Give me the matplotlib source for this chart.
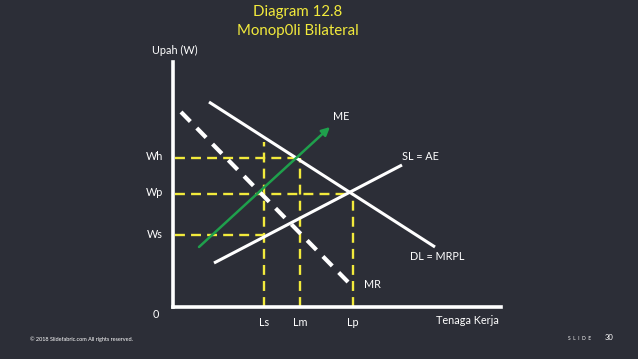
import matplotlib
matplotlib.use("Agg")
from matplotlib import pyplot as plt

plt.rcParams['font.family'] = ['Lato', 'DejaVu Sans']

bg = "#2c2e37"
yellow = "#f2ea3c"
green = "#1fa04c"

# curves (labour on x, wage on y)
dl_x = [36, 262]
dl_y = [205, 60]
sl_x = [41, 229]
sl_y = [44, 142]
me_x = [26, 157]
me_y = [60, 180]
mr_x = [8, 176]
mr_y = [195, 24]

# wage levels and labour quantities
wage_names = ["Wh", "Wp", "Ws"]
wage_vals = [149, 113, 72]
wage_ends = [127, 180, 91]
lab_names = ["Ls", "Lm", "Lp"]
lab_vals = [91, 127, 180]
lab_tops = [165, 149, 113]

fig = plt.figure(figsize=(6.38, 3.59), dpi=100, facecolor=bg)
ax = fig.add_axes([173 / 638, 52 / 359, 328 / 638, 245 / 359])
ax.set_facecolor(bg)
ax.set_xlim(0, 328)
ax.set_ylim(0, 245)
for s in ["top", "right"]:
    ax.spines[s].set_visible(False)
for s in ["left", "bottom"]:
    ax.spines[s].set_color("white")
    ax.spines[s].set_linewidth(2.6)
ax.set_xticks([])
ax.set_yticks([])

# yellow guide lines
for v, e in zip(wage_vals, wage_ends):
    ax.plot([2, e], [v, v], color=yellow, lw=1.7, dashes=(4.2, 2.6), zorder=2)
for v, t in zip(lab_vals, lab_tops):
    ax.plot([v, v], [0, t], color=yellow, lw=1.7, dashes=(4.2, 2.6), zorder=2)

ax.plot(dl_x, dl_y, color="white", lw=2.2, solid_capstyle="butt", zorder=3)
ax.plot(sl_x, sl_y, color="white", lw=2.2, solid_capstyle="butt", zorder=3)
ax.plot(mr_x, mr_y, color="white", lw=3, dashes=(3.2, 2.2), zorder=3)
ax.annotate("", xy=(me_x[1], me_y[1]), xytext=(me_x[0], me_y[0]),
            arrowprops=dict(arrowstyle="-|>", color=green, lw=1.8,
                            mutation_scale=12, shrinkA=0, shrinkB=0), zorder=4)

fs = 7.8
for n, v in zip(wage_names, wage_vals):
    ax.text(-18, v + 1, n, color="white", fontsize=fs, ha="center", va="center")
for n, v in zip(lab_names, lab_vals):
    ax.text(v, -15, n, color="white", fontsize=fs, ha="center", va="center")
ax.text(-17, -8, "0", color="white", fontsize=fs, ha="center", va="center")
ax.text(2, 257, "Upah (W)", color="white", fontsize=fs, ha="center", va="center")
ax.text(294, -13, "Tenaga Kerja", color="white", fontsize=fs, ha="center", va="center")
ax.text(168, 190, "ME", color="white", fontsize=fs, ha="center", va="center")
ax.text(247, 150, "SL = AE", color="white", fontsize=fs, ha="center", va="center")
ax.text(264, 51, "DL = MRPL", color="white", fontsize=fs, ha="center", va="center")
ax.text(199, 22, "MR", color="white", fontsize=fs, ha="center", va="center")

fig.text(298 / 638, 1 - 12 / 359, "Diagram 12.8", color=yellow, fontsize=10.8,
         ha="center", va="center")
fig.text(298 / 638, 1 - 31 / 359, "Monop0li Bilateral", color=yellow, fontsize=10.8,
         ha="center", va="center")
fig.text(30 / 638, 1 - 339 / 359, "© 2018 Slidefabric.com All rights reserved.",
         color="white", fontsize=4, ha="left", va="center")
fig.text(568 / 638, 1 - 339 / 359, "S  L  I  D  E", color="white", fontsize=3.5,
         ha="left", va="center")
fig.text(613 / 638, 1 - 338 / 359, "30", color="white", fontsize=5.5,
         ha="right", va="center")

fig.savefig("out.png", dpi=100, facecolor=bg)
